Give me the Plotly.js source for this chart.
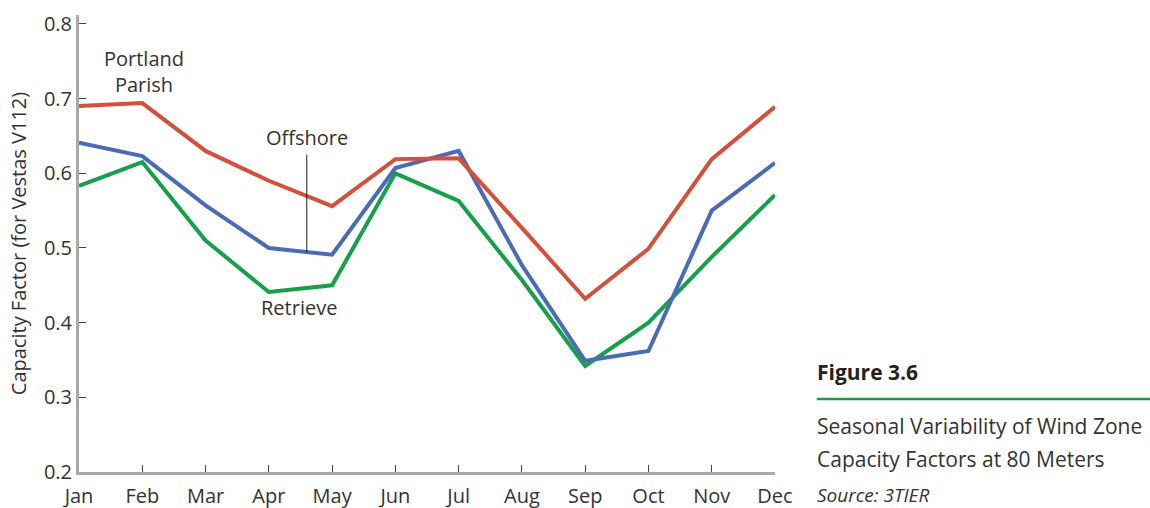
<!DOCTYPE html>
<html><head><meta charset="utf-8">
<script src="https://cdn.plot.ly/plotly-3.0.1.min.js"></script>
<style>html,body{margin:0;padding:0;background:#fff}</style>
</head><body>
<div id="chart" style="width:1150px;height:508px"></div>
<script>
const months = ["Jan","Feb","Mar","Apr","May","Jun","Jul","Aug","Sep","Oct","Nov","Dec"];
const portlandParish = [0.690, 0.694, 0.630, 0.590, 0.556, 0.619, 0.620, 0.527, 0.432, 0.499, 0.619, 0.689];
const offshore = [0.641, 0.623, 0.557, 0.500, 0.491, 0.607, 0.630, 0.477, 0.349, 0.362, 0.550, 0.614];
const retrieve = [0.583, 0.615, 0.510, 0.441, 0.450, 0.600, 0.563, 0.457, 0.342, 0.400, 0.488, 0.571];
const yTicks = [0.2, 0.3, 0.4, 0.5, 0.6, 0.7, 0.8];
const yTickLabels = ["0.2","0.3","0.4","0.5","0.6","0.7","0.8"];

const xIdx = months.map((m,i)=>i);
const font = "Open Sans, Noto Sans, sans-serif";
function tr(y, color){
  return {x: xIdx, y: y, type:"scatter", mode:"lines", line:{color:color, width:4}, hoverinfo:"skip"};
}
const data = [tr(retrieve,"#16a04a"), tr(offshore,"#4a6cb6"), tr(portlandParish,"#d4503a")];

const layout = {
  width:1150, height:508,
  margin:{l:79, r:375, t:15, b:36},
  paper_bgcolor:"#fff", plot_bgcolor:"#fff",
  showlegend:false,
  font:{family:font, color:"#333", size:20},
  xaxis:{
    range:[0,11], tickmode:"array", tickvals:xIdx, ticktext:months,
    showline:true, linecolor:"#a7a9ac", linewidth:3,
    ticks:"inside", ticklen:7, tickwidth:1, tickcolor:"#444",
    showgrid:false, zeroline:false, fixedrange:true,
    ticklabelstandoff:4,
    tickfont:{family:font, size:20, color:"#333"}
  },
  yaxis:{
    range:[0.2,0.812], tickmode:"array", tickvals:yTicks, ticktext:yTickLabels,
    showline:true, linecolor:"#a7a9ac", linewidth:3,
    ticks:"inside", ticklen:7, tickwidth:1, tickcolor:"#444",
    showgrid:false, zeroline:false, fixedrange:true,
    tickfont:{family:font, size:20, color:"#333"},
    title:{text:"Capacity Factor (for Vestas V112)", font:{family:font, size:20, color:"#333"}, standoff:12}
  },
  shapes:[
    {type:"line", xref:"x", yref:"y", x0:3.6, x1:3.6, y0:0.494, y1:0.625, line:{color:"#222", width:1}},
    {type:"line", xref:"paper", yref:"paper", x0:1.060, x1:1.539, y0:0.160, y1:0.160, line:{color:"#1a9a4a", width:2.5}}
  ],
  annotations:[
    {xref:"x", yref:"y", x:1.02, y:0.737, text:"Portland<br>Parish", showarrow:false, font:{family:font, size:20, color:"#333"}, align:"center"},
    {xref:"x", yref:"y", x:3.6, y:0.648, text:"Offshore", showarrow:false, font:{family:font, size:20, color:"#333"}},
    {xref:"x", yref:"y", x:3.48, y:0.42, text:"Retrieve", showarrow:false, font:{family:font, size:20, color:"#333"}},
    {xref:"paper", yref:"paper", x:1.058, y:0.219, xanchor:"left", yanchor:"middle", text:"<b>Figure 3.6</b>", showarrow:false, font:{family:font, size:21, color:"#222"}},
    {xref:"paper", yref:"paper", x:1.058, y:0.100, xanchor:"left", yanchor:"middle", text:"Seasonal Variability of Wind Zone", showarrow:false, font:{family:font, size:21, color:"#333"}},
    {xref:"paper", yref:"paper", x:1.058, y:0.028, xanchor:"left", yanchor:"middle", text:"Capacity Factors at 80 Meters", showarrow:false, font:{family:font, size:21, color:"#333"}},
    {xref:"paper", yref:"paper", x:1.058, y:-0.050, xanchor:"left", yanchor:"middle", text:"<i>Source: 3TIER</i>", showarrow:false, font:{family:font, size:19, color:"#333"}}
  ]
};
Plotly.newPlot("chart", data, layout, {staticPlot:true, displayModeBar:false});
</script>
</body></html>
